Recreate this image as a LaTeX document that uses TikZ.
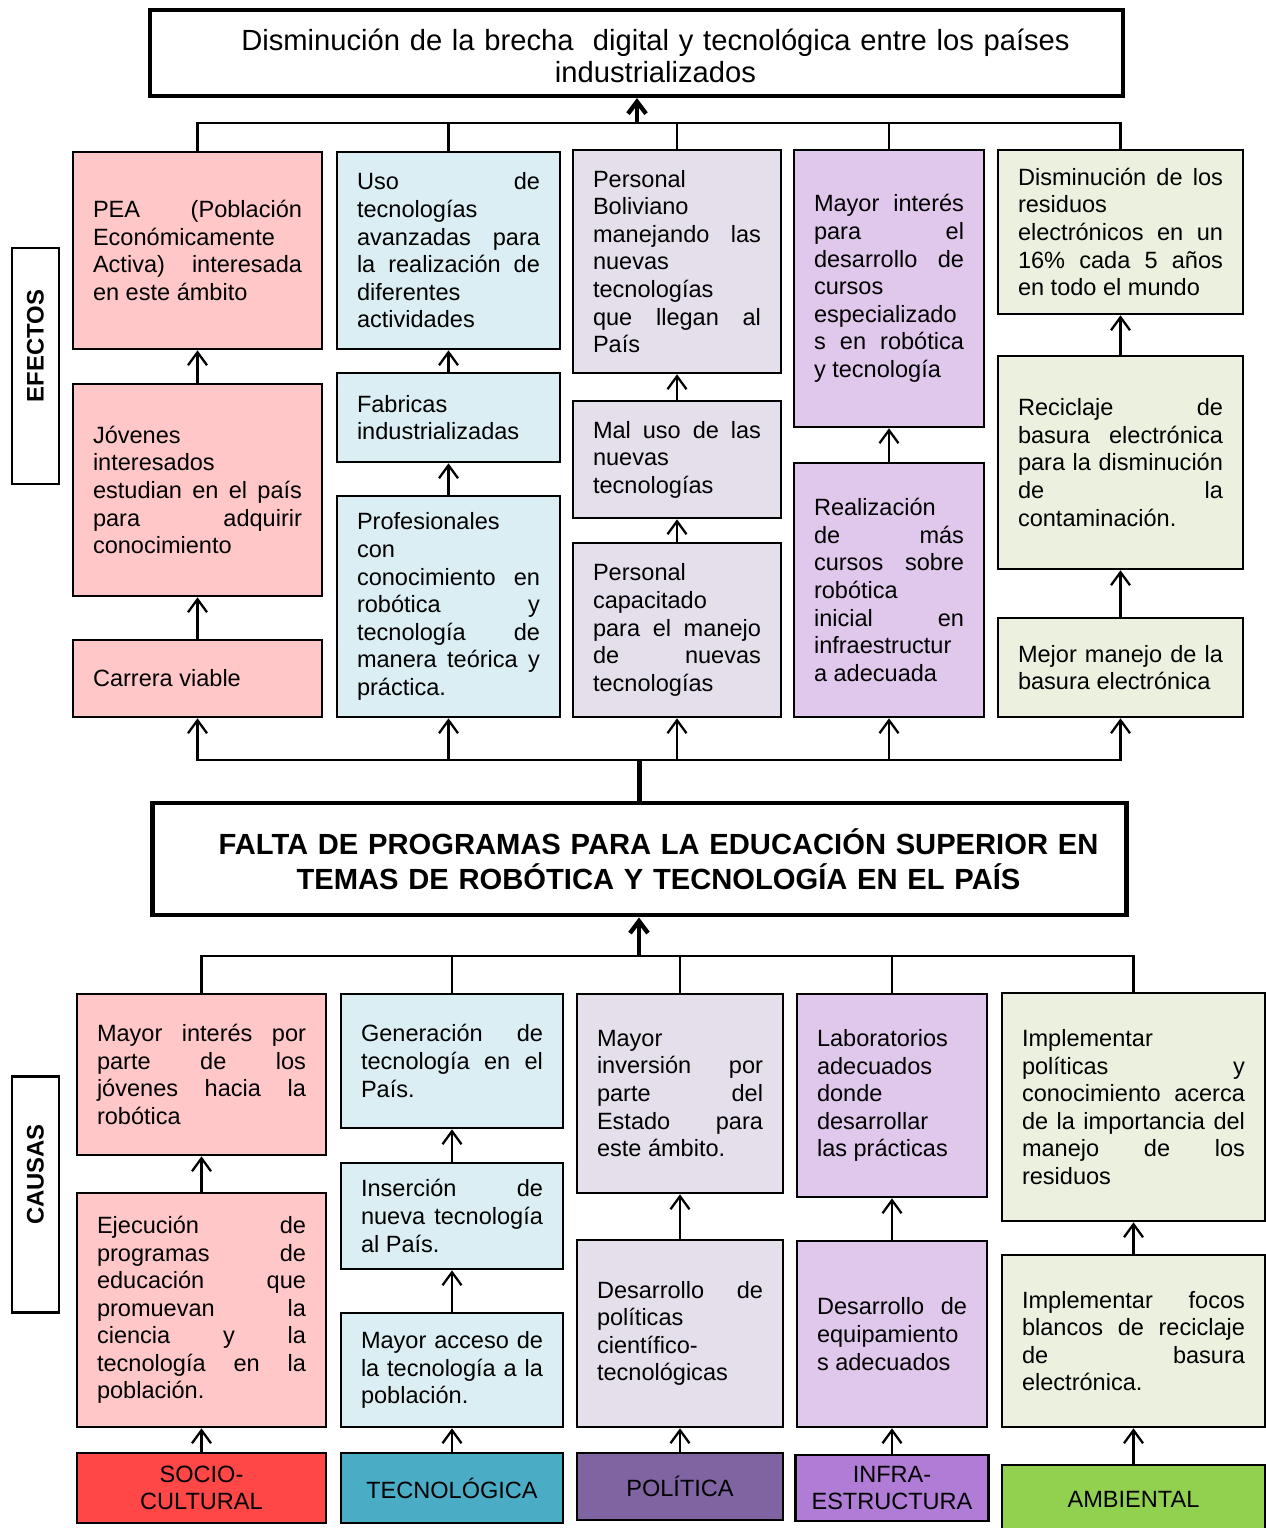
\documentclass[tikz,border=0pt]{standalone}
\usepackage{fontspec}
\setmainfont{Liberation Sans}
\usetikzlibrary{arrows.meta}
\definecolor{rosa}{RGB}{255,199,199}
\definecolor{celeste}{RGB}{218,238,243}
\definecolor{lila}{RGB}{229,223,236}
\definecolor{morado}{RGB}{224,199,236}
\definecolor{verdeclaro}{RGB}{235,241,222}
\definecolor{rojo}{RGB}{255,71,71}
\definecolor{turquesa}{RGB}{75,172,198}
\definecolor{violeta}{RGB}{128,100,162}
\definecolor{malva}{RGB}{176,124,214}
\definecolor{verde}{RGB}{146,208,80}
\newcommand{\cuerpo}{\fontsize{13.4}{15.7}\selectfont\tolerance=10000\hbadness=10000\hyphenpenalty=10000}
\tikzset{
	caja/.style 2 args={draw, line width=1.5pt, fill=#1, text width=#2, inner xsep=0.4cm, inner ysep=0pt, align=justify, font=\cuerpo},
	ef1/.style={caja={rosa}{4.18cm}},
	ef2/.style={caja={celeste}{3.66cm}},
	ef3/.style={caja={lila}{3.36cm}},
	ef4/.style={caja={morado}{3.0cm}},
	ef5/.style={caja={verdeclaro}{4.1cm}},
	ca1/.style={caja={rosa}{4.18cm}},
	ca2/.style={caja={celeste}{3.64cm}},
	ca3/.style={caja={lila}{3.32cm}},
	ca4/.style={caja={morado}{3.0cm}},
	ca5/.style={caja={verdeclaro}{4.46cm}},
	categoria/.style={draw, line width=1.5pt, align=center, font=\cuerpo, inner sep=0pt, minimum height=1.4cm},
	etiqueta/.style={draw, line width=1.3pt, rotate=90, font=\fontsize{13.6}{16}\selectfont\bfseries, minimum width=4.72cm, minimum height=0.94cm},
	linea/.style={line width=1.3pt},
	gruesa/.style={line width=2.5pt},
	flecha/.style={line width=1.3pt, -{Straight Barb[length=0.26cm, width=0.38cm]}},
	flechagruesa/.style={line width=2.5pt, -{Straight Barb[length=0.24cm, width=0.36cm]}}
}
\begin{document}
\begin{tikzpicture}[x=0.02cm, y=-0.02cm]
	\useasboundingbox (0,0) rectangle (1265,1528);
	\node[draw, line width=2.3pt, minimum width=19.46cm, minimum height=1.72cm, text width=18.6cm, align=center, font=\fontsize{16.6}{18.4}\selectfont] (meta) at (636.5,53) {\rule{0pt}{15.5pt}\hspace*{0.76cm}Disminución de la brecha\ \ digital y tecnológica entre los países\\\hspace*{0.76cm}industrializados};
	\node[draw, line width=2.8pt, minimum width=19.5cm, minimum height=2.24cm, text width=18.9cm, align=center, font=\fontsize{16.6}{19.9}\selectfont\bfseries] (problema) at (639.5,859) {\hspace*{0.76cm}FALTA DE PROGRAMAS PARA LA EDUCACIÓN SUPERIOR EN\\\hspace*{0.76cm}TEMAS DE ROBÓTICA Y TECNOLOGÍA EN EL PAÍS};
	\node[etiqueta] (efectos) at (35.5,366) {\hspace*{0.8cm}EFECTOS};
	\node[etiqueta] (causas) at (35.5,1194.5) {\hspace*{0.8cm}CAUSAS};

	\node[ef1, minimum height=3.94cm] (e1a) at (197.5,250.5) {PEA (Población\linebreak Económicamente\linebreak Activa) interesada\linebreak en este ámbito};
	\node[ef1, minimum height=4.24cm] (e1b) at (197.5,490) {Jóvenes\linebreak interesados\linebreak estudian en el país\linebreak para adquirir\linebreak conocimiento};
	\node[ef1, minimum height=1.54cm] (e1c) at (197.5,678.5) {Carrera viable};
	\node[ef2, minimum height=3.94cm] (e2a) at (448.5,250.5) {Uso de\linebreak tecnologías\linebreak avanzadas para\linebreak la realización de\linebreak diferentes\linebreak actividades};
	\node[ef2, minimum height=1.78cm] (e2b) at (448.5,417.5) {Fabricas\linebreak industrializadas};
	\node[ef2, minimum height=4.42cm] (e2c) at (448.5,606.5) {Profesionales\linebreak con\linebreak conocimiento en\linebreak robótica y\linebreak tecnología de\linebreak manera teórica y\linebreak práctica.};
	\node[ef3, minimum height=4.46cm] (e3a) at (677,261.5) {Personal\linebreak Boliviano\linebreak manejando las\linebreak nuevas\linebreak tecnologías\linebreak que llegan al\linebreak País};
	\node[ef3, minimum height=2.34cm] (e3b) at (677,459.5) {Mal uso de las\linebreak nuevas\linebreak tecnologías};
	\node[ef3, minimum height=3.48cm] (e3c) at (677,630) {Personal\linebreak capacitado\linebreak para el manejo\linebreak de nuevas\linebreak tecnologías};
	\node[ef4, minimum height=5.54cm] (e4a) at (889,288.5) {Mayor interés\linebreak para el\linebreak desarrollo de\linebreak cursos\linebreak especializado\linebreak s en robótica\linebreak y tecnología};
	\node[ef4, minimum height=5.08cm] (e4b) at (889,590) {Realización\linebreak de más\linebreak cursos sobre\linebreak robótica\linebreak inicial en\linebreak infraestructur\linebreak a adecuada};
	\node[ef5, minimum height=3.28cm] (e5a) at (1120.5,232) {Disminución de los\linebreak residuos\linebreak electrónicos en un\linebreak 16\% cada 5 años\linebreak en todo el mundo};
	\node[ef5, minimum height=4.26cm] (e5b) at (1120.5,462.5) {Reciclaje de\linebreak basura electrónica\linebreak para la disminución\linebreak de la\linebreak contaminación.};
	\node[ef5, minimum height=1.98cm] (e5c) at (1120.5,667.5) {Mejor manejo de la\linebreak basura electrónica};

	\node[ca1, minimum height=3.22cm] (c1a) at (201.5,1074.5) {Mayor interés por\linebreak parte de los\linebreak jóvenes hacia la\linebreak robótica};
	\node[ca1, minimum height=4.68cm] (c1b) at (201.5,1310) {Ejecución de\linebreak programas de\linebreak educación que\linebreak promuevan la\linebreak ciencia y la\linebreak tecnología en la\linebreak población.};
	\node[ca2, minimum height=2.68cm] (c2a) at (452,1061) {Generación de\linebreak tecnología en el\linebreak País.};
	\node[ca2, minimum height=2.12cm] (c2b) at (452,1216) {Inserción de\linebreak nueva tecnología\linebreak al País.};
	\node[ca2, minimum height=2.28cm] (c2c) at (452,1370) {Mayor acceso de\linebreak la tecnología a la\linebreak población.};
	\node[ca3, minimum height=3.98cm] (c3a) at (680,1093.5) {Mayor\linebreak inversión por\linebreak parte del\linebreak Estado para\linebreak este ámbito.};
	\node[ca3, minimum height=3.74cm] (c3b) at (680,1333.5) {Desarrollo de\linebreak políticas\linebreak científico-\linebreak tecnológicas};
	\node[ca4, minimum height=4.06cm] (c4a) at (892,1095.5) {Laboratorios\linebreak adecuados\linebreak donde\linebreak desarrollar\linebreak las prácticas};
	\node[ca4, minimum height=3.72cm] (c4b) at (892,1334) {Desarrollo de\linebreak equipamiento\linebreak s adecuados};
	\node[ca5, minimum height=4.56cm] (c5a) at (1133.5,1107) {Implementar\linebreak políticas y\linebreak conocimiento acerca\linebreak de la importancia del\linebreak manejo de los\linebreak residuos};
	\node[ca5, minimum height=3.44cm] (c5b) at (1133.5,1341) {Implementar focos\linebreak blancos de reciclaje\linebreak de basura\linebreak electrónica.};

	\node[categoria, fill=rojo, minimum width=4.98cm] (socio) at (201.5,1488) {SOCIO-\\CULTURAL};
	\node[categoria, fill=turquesa, minimum width=4.44cm] (tecno) at (452,1488) {TECNOLÓGICA};
	\node[categoria, fill=violeta, minimum width=4.12cm, minimum height=1.34cm] (politica) at (680,1486.5) {POLÍTICA};
	\node[categoria, fill=malva, minimum width=3.86cm, minimum height=1.32cm] (infra) at (892,1488) {INFRA-\\ESTRUCTURA};
	\node[categoria, fill=verde, minimum width=5.26cm, minimum height=1.36cm] (ambiental) at (1133.5,1499) {AMBIENTAL};

	\coordinate (ej) at (637,123);
	\coordinate (ei) at (639,760);
	\coordinate (cj) at (639,956);

	\draw[linea] (e1a.north) |- (ej) -| (e5a.north);
	\foreach \n in {e2a,e3a,e4a} \draw[linea] (\n.north) -- (\n.north |- ej);
	\draw[flechagruesa] (ej) -- (ej |- meta.south);
	\draw[flecha] (e1c) -- (e1b);
	\draw[flecha] (e1b) -- (e1a);
	\draw[flecha] (e2c) -- (e2b);
	\draw[flecha] (e2b) -- (e2a);
	\draw[flecha] (e3c) -- (e3b);
	\draw[flecha] (e3b) -- (e3a);
	\draw[flecha] (e4b) -- (e4a);
	\draw[flecha] (e5c) -- (e5b);
	\draw[flecha] (e5b) -- (e5a);
	\draw[gruesa] (problema.north) -- (problema.north |- ei);
	\foreach \n in {e1c,e2c,e3c,e4b,e5c} \draw[flecha] (ei) -| (\n.south);

	\draw[flechagruesa] (cj) -- (cj |- problema.south);
	\draw[linea] (c1a.north) |- (cj) -| (c5a.north);
	\foreach \n in {c2a,c3a,c4a} \draw[linea] (\n.north) -- (\n.north |- cj);
	\draw[flecha] (socio) -- (c1b);
	\draw[flecha] (c1b) -- (c1a);
	\draw[flecha] (tecno) -- (c2c);
	\draw[flecha] (c2c) -- (c2b);
	\draw[flecha] (c2b) -- (c2a);
	\draw[flecha] (politica) -- (c3b);
	\draw[flecha] (c3b) -- (c3a);
	\draw[flecha] (infra) -- (c4b);
	\draw[flecha] (c4b) -- (c4a);
	\draw[flecha] (ambiental) -- (c5b);
	\draw[flecha] (c5b) -- (c5a);
\end{tikzpicture}
\end{document}
